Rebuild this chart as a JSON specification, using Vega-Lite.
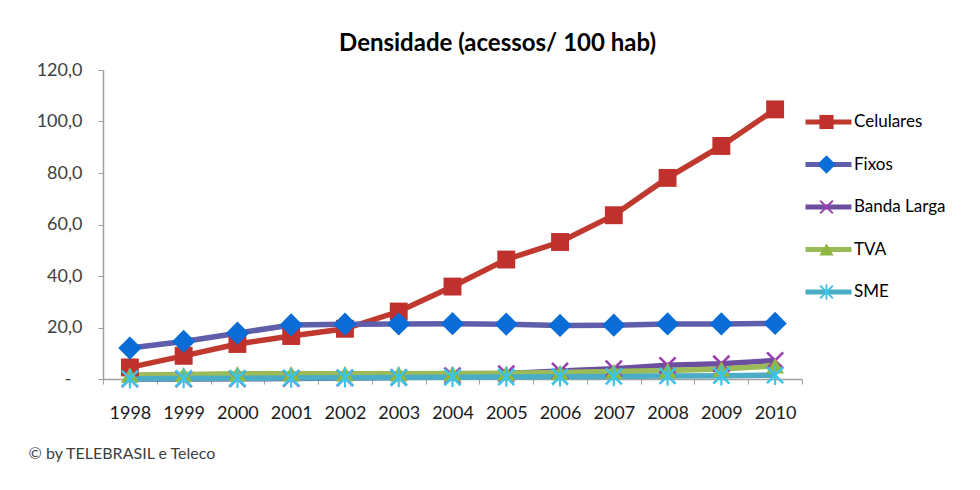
{
  "$schema": "https://vega.github.io/schema/vega-lite/v6.json",
  "width": 699,
  "height": 309,
  "autosize": "none",
  "padding": {"left": 103, "top": 70, "right": 178, "bottom": 111},
  "background": "white",
  "config": {"view": {"stroke": null}, "font": "Lato"},
  "title": {"text": "Densidade (acessos/ 100 hab)", "fontSize": 24, "fontWeight": "bold", "font": "Lato", "color": "#000000", "anchor": "middle", "dx": 45, "dy": 32, "baseline": "alphabetic", "offset": 18},
  "data": {"values": [
    {"serie": "Celulares", "ano": "1998", "valor": 4.5},
    {"serie": "Celulares", "ano": "1999", "valor": 9.0},
    {"serie": "Celulares", "ano": "2000", "valor": 13.6},
    {"serie": "Celulares", "ano": "2001", "valor": 16.7},
    {"serie": "Celulares", "ano": "2002", "valor": 19.5},
    {"serie": "Celulares", "ano": "2003", "valor": 26.2},
    {"serie": "Celulares", "ano": "2004", "valor": 35.9},
    {"serie": "Celulares", "ano": "2005", "valor": 46.4},
    {"serie": "Celulares", "ano": "2006", "valor": 53.2},
    {"serie": "Celulares", "ano": "2007", "valor": 63.6},
    {"serie": "Celulares", "ano": "2008", "valor": 78.1},
    {"serie": "Celulares", "ano": "2009", "valor": 90.5},
    {"serie": "Celulares", "ano": "2010", "valor": 104.7},
    {"serie": "Fixos", "ano": "1998", "valor": 12.0},
    {"serie": "Fixos", "ano": "1999", "valor": 14.6},
    {"serie": "Fixos", "ano": "2000", "valor": 17.8},
    {"serie": "Fixos", "ano": "2001", "valor": 21.0},
    {"serie": "Fixos", "ano": "2002", "valor": 21.3},
    {"serie": "Fixos", "ano": "2003", "valor": 21.4},
    {"serie": "Fixos", "ano": "2004", "valor": 21.5},
    {"serie": "Fixos", "ano": "2005", "valor": 21.3},
    {"serie": "Fixos", "ano": "2006", "valor": 20.8},
    {"serie": "Fixos", "ano": "2007", "valor": 20.9},
    {"serie": "Fixos", "ano": "2008", "valor": 21.4},
    {"serie": "Fixos", "ano": "2009", "valor": 21.4},
    {"serie": "Fixos", "ano": "2010", "valor": 21.6},
    {"serie": "Banda Larga", "ano": "1998", "valor": 0.0},
    {"serie": "Banda Larga", "ano": "1999", "valor": 0.0},
    {"serie": "Banda Larga", "ano": "2000", "valor": 0.1},
    {"serie": "Banda Larga", "ano": "2001", "valor": 0.2},
    {"serie": "Banda Larga", "ano": "2002", "valor": 0.4},
    {"serie": "Banda Larga", "ano": "2003", "valor": 0.6},
    {"serie": "Banda Larga", "ano": "2004", "valor": 1.3},
    {"serie": "Banda Larga", "ano": "2005", "valor": 2.1},
    {"serie": "Banda Larga", "ano": "2006", "valor": 3.1},
    {"serie": "Banda Larga", "ano": "2007", "valor": 4.0},
    {"serie": "Banda Larga", "ano": "2008", "valor": 5.3},
    {"serie": "Banda Larga", "ano": "2009", "valor": 5.9},
    {"serie": "Banda Larga", "ano": "2010", "valor": 7.2},
    {"serie": "TVA", "ano": "1998", "valor": 1.6},
    {"serie": "TVA", "ano": "1999", "valor": 1.7},
    {"serie": "TVA", "ano": "2000", "valor": 2.0},
    {"serie": "TVA", "ano": "2001", "valor": 2.0},
    {"serie": "TVA", "ano": "2002", "valor": 2.0},
    {"serie": "TVA", "ano": "2003", "valor": 2.0},
    {"serie": "TVA", "ano": "2004", "valor": 2.1},
    {"serie": "TVA", "ano": "2005", "valor": 2.2},
    {"serie": "TVA", "ano": "2006", "valor": 2.5},
    {"serie": "TVA", "ano": "2007", "valor": 2.9},
    {"serie": "TVA", "ano": "2008", "valor": 3.3},
    {"serie": "TVA", "ano": "2009", "valor": 3.9},
    {"serie": "TVA", "ano": "2010", "valor": 5.1},
    {"serie": "SME", "ano": "1998", "valor": 0.1},
    {"serie": "SME", "ano": "1999", "valor": 0.2},
    {"serie": "SME", "ano": "2000", "valor": 0.3},
    {"serie": "SME", "ano": "2001", "valor": 0.4},
    {"serie": "SME", "ano": "2002", "valor": 0.5},
    {"serie": "SME", "ano": "2003", "valor": 0.6},
    {"serie": "SME", "ano": "2004", "valor": 0.7},
    {"serie": "SME", "ano": "2005", "valor": 0.8},
    {"serie": "SME", "ano": "2006", "valor": 0.9},
    {"serie": "SME", "ano": "2007", "valor": 1.0},
    {"serie": "SME", "ano": "2008", "valor": 1.2},
    {"serie": "SME", "ano": "2009", "valor": 1.3},
    {"serie": "SME", "ano": "2010", "valor": 1.5}
  ]},
  "encoding": {
    "x": {"field": "ano", "type": "ordinal", "bandPosition": 0.5,
      "scale": {"type": "band", "paddingInner": 0, "paddingOuter": 0},
      "axis": {"title": "© by TELEBRASIL e Teleco", "titleX": -75, "titleY": 74, "titleAlign": "left", "titleAnchor": "start", "titleBaseline": "middle", "titleFontSize": 16, "titleFontWeight": "normal", "titleColor": "#404040", "titleFont": "Lato",
        "labelAngle": 0, "labelFontSize": 18, "labelColor": "#1a1a1a", "labelPadding": 20, "labelFont": "Lato",
        "tickBand": "extent", "tickSize": 5, "tickColor": "#A0A0A0", "domainColor": "#A0A0A0", "domainWidth": 1.5, "grid": false}},
    "y": {"field": "valor", "type": "quantitative",
      "scale": {"domain": [0, 120], "nice": false},
      "axis": {"title": null, "values": [0, 20, 40, 60, 80, 100, 120], "labelExpr": "datum.value == 0 ? '-' : replace(format(datum.value, '.1f'), '.', ',')",
        "grid": false, "domainColor": "#A0A0A0", "domainWidth": 1.5, "tickColor": "#A0A0A0", "tickSize": 5,
        "labelFontSize": 18, "labelColor": "#404040", "labelPadding": {"expr": "datum.value == 0 ? 27 : 16"}, "labelFont": "Lato"}}
  },
  "layer": [
    {
      "mark": {"type": "line", "strokeWidth": 5.5},
      "encoding": {
        "color": {"field": "serie", "type": "nominal", "sort": ["Celulares", "Fixos", "Banda Larga", "TVA", "SME"],
          "scale": {"range": ["#C0392F", "#5E5EAA", "#6B4E9E", "#9BBB59", "#4BACC6"]},
          "legend": {"title": null, "orient": "none", "legendX": 700, "legendY": 37, "symbolType": "stroke", "symbolSize": 2116, "symbolStrokeWidth": 5, "clipHeight": 30, "rowPadding": 12.5, "labelFontSize": 17, "labelColor": "#000000", "labelOffset": 0, "padding": 0, "labelFont": "Lato"}}
      }
    },
    {
      "mark": {"type": "point", "filled": true, "size": 320, "opacity": 1, "strokeWidth": 0},
      "encoding": {
        "fill": {"field": "serie", "type": "nominal",
          "scale": {"domain": ["Celulares", "Fixos", "Banda Larga", "TVA", "SME"], "range": ["#C0302C", "#0A6CD6", "#9A3DB0", "#8DB83F", "#3EC3E8"]},
          "legend": {"title": null, "orient": "none", "legendX": 716, "legendY": 37, "symbolSize": 200, "clipHeight": 30, "rowPadding": 12.5, "labelExpr": "''", "labelFontSize": 1, "padding": 0, "symbolStrokeWidth": 0, "symbolStrokeColor": "transparent", "symbolOpacity": 1}},
        "shape": {"field": "serie", "type": "nominal",
          "scale": {"domain": ["Celulares", "Fixos", "Banda Larga", "TVA", "SME"], "range": ["square", "M0,-1.3L1.3,0L0,1.3L-1.3,0Z", "M-1,-0.8L-0.8,-1L0,-0.2L0.8,-1L1,-0.8L0.2,0L1,0.8L0.8,1L0,0.2L-0.8,1L-1,0.8L-0.2,0Z", "triangle-up", "M-1,-0.8L-0.8,-1L0,-0.2L0.8,-1L1,-0.8L0.2,0L1,0.8L0.8,1L0,0.2L-0.8,1L-1,0.8L-0.2,0Z M-0.12,-1.1H0.12V1.1H-0.12Z"]},
          "legend": {"title": null, "orient": "none", "legendX": 716, "legendY": 37, "symbolSize": 200, "clipHeight": 30, "rowPadding": 12.5, "labelExpr": "''", "labelFontSize": 1, "padding": 0, "symbolStrokeWidth": 0, "symbolStrokeColor": "transparent", "symbolOpacity": 1}}
      }
    }
  ]
}
